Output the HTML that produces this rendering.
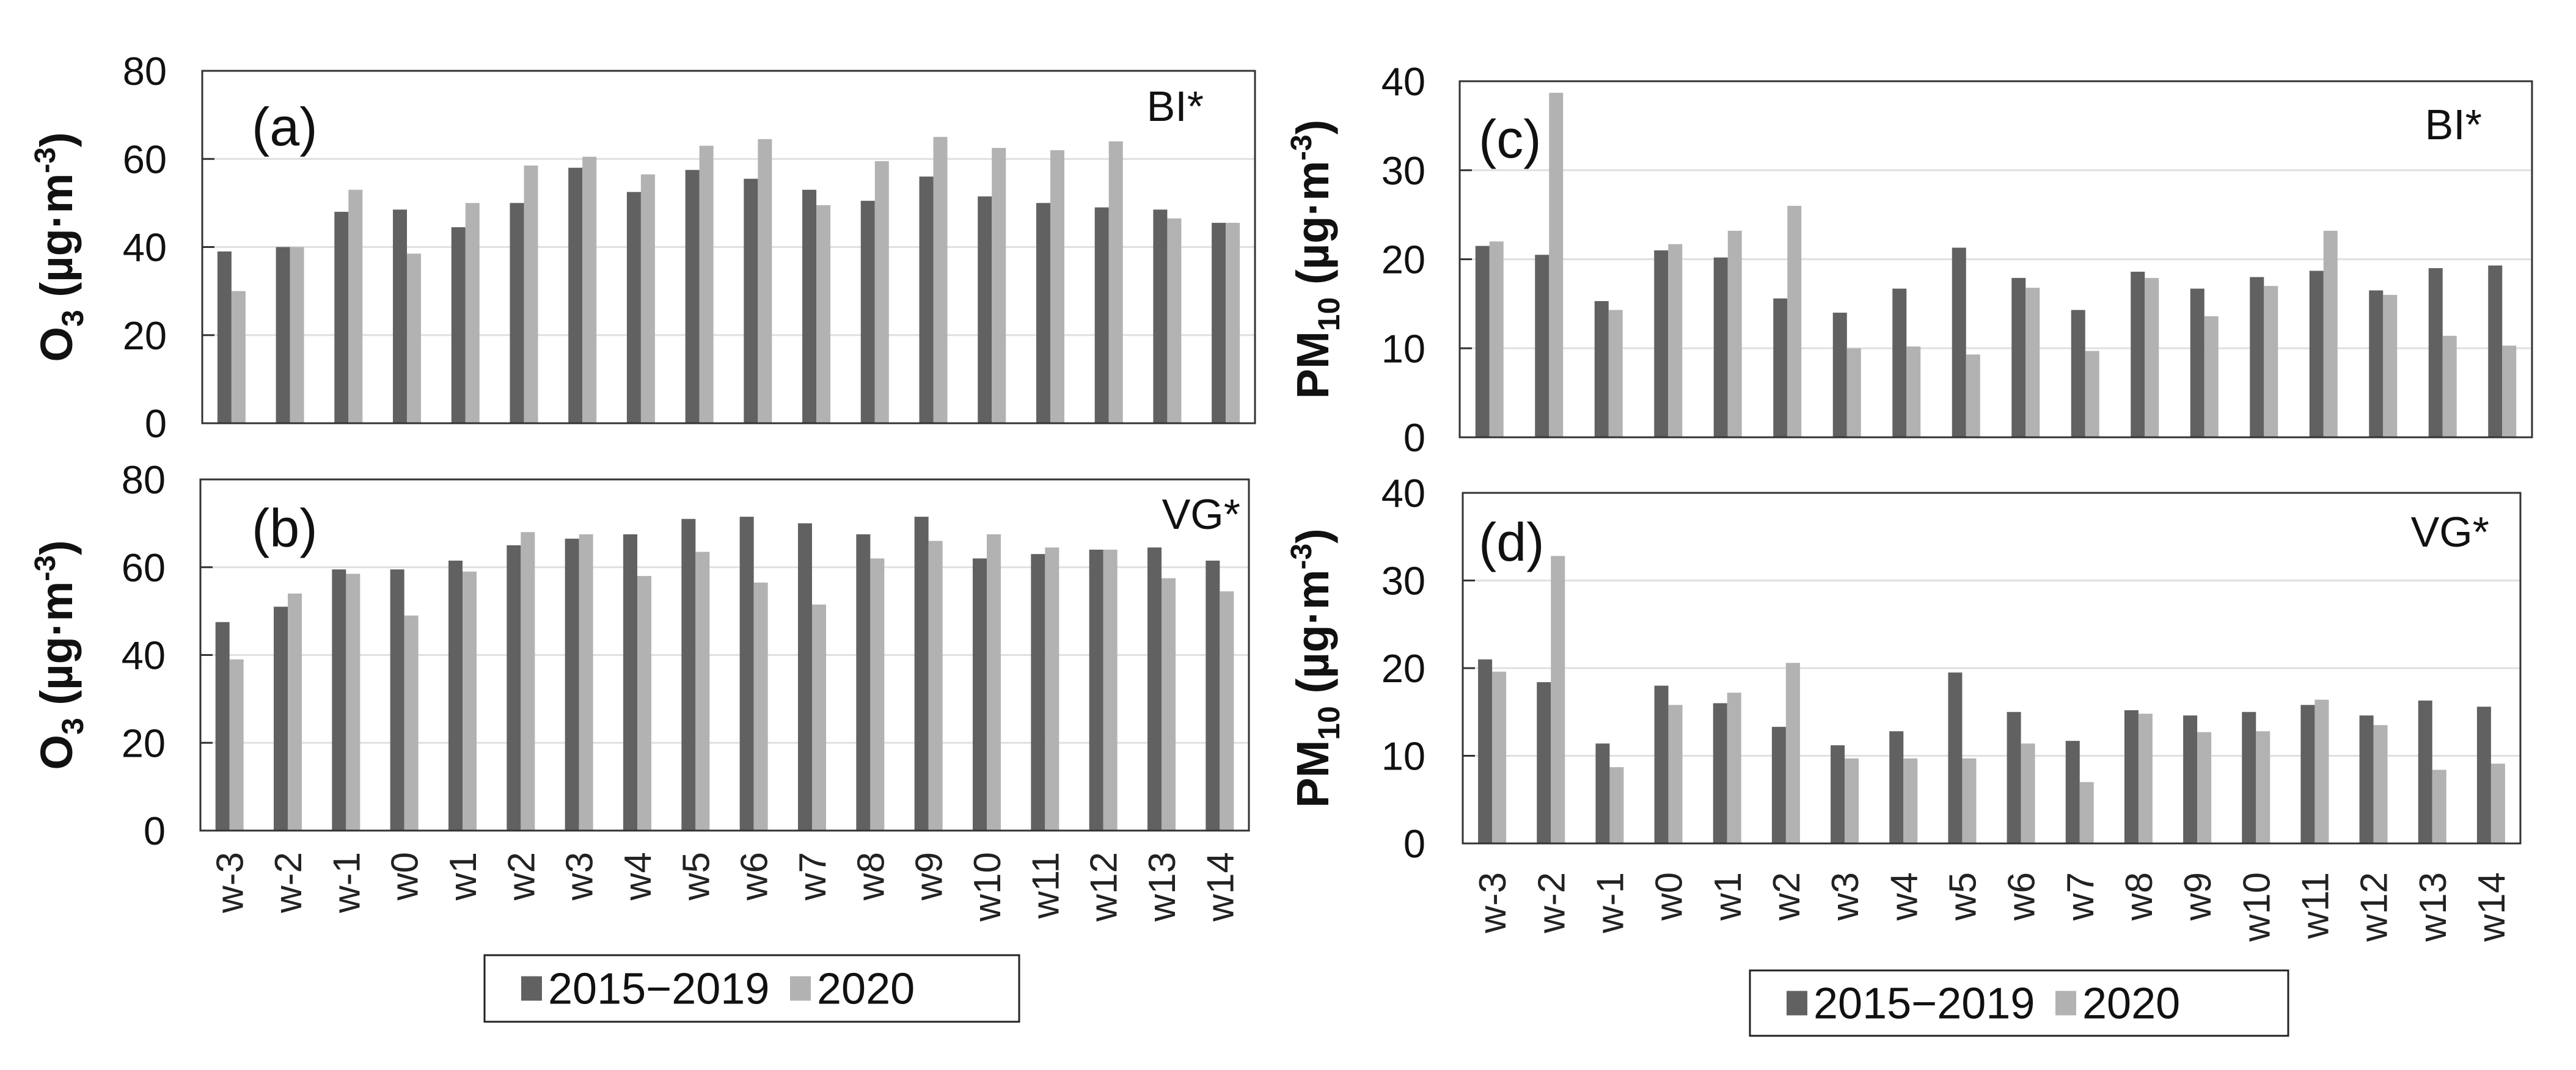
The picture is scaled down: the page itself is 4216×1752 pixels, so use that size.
<!DOCTYPE html>
<html><head><meta charset="utf-8"><style>
html,body{margin:0;padding:0;background:#fff;}
svg{display:block;font-family:"Liberation Sans",Arial,sans-serif;}
</style></head><body>
<svg id="chart" width="4216" height="1752" viewBox="0 0 4216 1752" xmlns="http://www.w3.org/2000/svg"></svg>
<script>
const categories = ["w-3","w-2","w-1","w0","w1","w2","w3","w4","w5","w6","w7","w8","w9","w10","w11","w12","w13","w14"];
const o3BiBase = [39,40,48,48.5,44.5,50,58,52.5,57.5,55.5,53,50.5,56,51.5,50,49,48.5,45.5];
const o3Bi2020 = [30,40,53,38.5,50,58.5,60.5,56.5,63,64.5,49.5,59.5,65,62.5,62,64,46.5,45.5];
const o3VgBase = [47.5,51,59.5,59.5,61.5,65,66.5,67.5,71,71.5,70,67.5,71.5,62,63,64,64.5,61.5];
const o3Vg2020 = [39,54,58.5,49,59,68,67.5,58,63.5,56.5,51.5,62,66,67.5,64.5,64,57.5,54.5];
const pmBiBase = [21.5,20.5,15.3,21,20.2,15.6,14,16.7,21.3,17.9,14.3,18.6,16.7,18,18.7,16.5,19,19.3];
const pmBi2020 = [22,38.7,14.3,21.7,23.2,26,10,10.2,9.3,16.8,9.7,17.9,13.6,17,23.2,16,11.4,10.3];
const pmVgBase = [21,18.4,11.4,18,16,13.3,11.2,12.8,19.5,15,11.7,15.2,14.6,15,15.8,14.6,16.3,15.6];
const pmVg2020 = [19.6,32.8,8.7,15.8,17.2,20.6,9.7,9.7,9.7,11.4,7,14.8,12.7,12.8,16.4,13.5,8.4,9.1];
const o3Ticks = [0,20,40,60,80];
const pmTicks = [0,10,20,30,40];
const legendLabels = ["2015\u22122019","2020"];

const svg = document.getElementById('chart');
const NS = "http://www.w3.org/2000/svg";
function mk(tag, attrs, parent){
  const e = document.createElementNS(NS, tag);
  for (const k in attrs) e.setAttribute(k, attrs[k]);
  (parent||svg).appendChild(e);
  return e;
}
const DARK="#616161", LIGHT="#b2b2b2";

function panel(cfg){
  const g = mk('g',{});
  
  
  const {x0,x1,y0,y1,max,ticks} = cfg;
  const yS = v => y1 - (v/max)*(y1-y0);
  const bw = (x1-x0)/categories.length;
  const xC = i => x0 + bw*(i+0.5);
  ticks.forEach(t=>{
    if (t>0 && t<max){
      const gl = mk('line',{x1:x0,x2:x1,y1:yS(t),y2:yS(t),stroke:"#e0e0e0","stroke-width":3},g);
      
      
    }
    const tl = mk('text',{x:cfg.tickX,y:yS(t)+23,"text-anchor":"end","font-size":65,fill:"#111"},g);
    tl.textContent = t;
    
    
    const tk = mk('line',{x1:x0,x2:x0+20,y1:yS(t),y2:yS(t),stroke:"#333","stroke-width":3},g);
    
    
  });
  const barW = 23;
  categories.forEach((c,i)=>{
    const a = mk('rect',{x:xC(i)-barW,y:yS(cfg.base[i]),width:barW,height:y1-yS(cfg.base[i]),fill:DARK},g);
    
    
    const b = mk('rect',{x:xC(i),y:yS(cfg.cur[i]),width:barW,height:y1-yS(cfg.cur[i]),fill:LIGHT},g);
    
    
    if (cfg.xlabels){
      const t = mk('text',{x:0,y:0,"text-anchor":"end","font-size":62,fill:"#222",
        transform:`translate(${xC(i)+22},${cfg.xlabY}) rotate(-90)`},g);
      t.textContent = c;
      
      
    }
  });
  const fr = mk('rect',{x:x0,y:y0,width:x1-x0,height:y1-y0,fill:"none",stroke:"#333","stroke-width":3},g);
  
  
  const pl = mk('text',{x:cfg.plX,y:cfg.plY,"font-size":88,fill:"#111"},g);
  pl.textContent = cfg.plabel;
  
  
  const st = mk('text',{x:cfg.stX,y:cfg.stY,"text-anchor":"end","font-size":70,fill:"#111"},g);
  st.textContent = cfg.site;
  
  
  const yt = mk('text',{x:0,y:0,"text-anchor":"middle","font-size":74,"font-weight":"bold",fill:"#111",
    transform:`translate(${cfg.titleX},${(y0+y1)/2}) rotate(-90)`},g);
  
  
  const s1 = mk('tspan',{},yt); s1.textContent = cfg.sp;
  const s2 = mk('tspan',{dy:18,"font-size":50},yt); s2.textContent = cfg.sub;
  const s3 = mk('tspan',{dy:-18},yt); s3.textContent = " (\u00b5g\u00b7m";
  const s4 = mk('tspan',{dy:-28,"font-size":48},yt); s4.textContent = "-3";
  const s5 = mk('tspan',{dy:28},yt); s5.textContent = ")";
}

panel({name:'panel-a',x0:331,x1:2054,y0:116,y1:693,max:80,ticks:o3Ticks,base:o3BiBase,cur:o3Bi2020,
  tickX:273,plX:412,plY:238,plabel:"(a)",stX:1970,stY:198,site:"BI*",titleX:118,sp:"O",sub:"3"});
panel({name:'panel-b',x0:328,x1:2044,y0:785,y1:1360,max:80,ticks:o3Ticks,base:o3VgBase,cur:o3Vg2020,
  tickX:271,plX:412,plY:895,plabel:"(b)",stX:2030,stY:866,site:"VG*",titleX:118,sp:"O",sub:"3",
  xlabels:true,xlabY:1395});
panel({name:'panel-c',x0:2389,x1:4144,y0:133,y1:716,max:40,ticks:pmTicks,base:pmBiBase,cur:pmBi2020,
  tickX:2333,plX:2420,plY:258,plabel:"(c)",stX:4062,stY:228,site:"BI*",titleX:2174,sp:"PM",sub:"10"});
panel({name:'panel-d',x0:2394,x1:4125,y0:807,y1:1381,max:40,ticks:pmTicks,base:pmVgBase,cur:pmVg2020,
  tickX:2333,plX:2420,plY:918,plabel:"(d)",stX:4074,stY:895,site:"VG*",titleX:2174,sp:"PM",sub:"10",
  xlabels:true,xlabY:1428});

function legend(name,x,y,w,h){
  const g = mk('g',{});
  
  
  const r = mk('rect',{x:x,y:y,width:w,height:h,fill:"#fff",stroke:"#222","stroke-width":3},g);
  
  
  const cols=[DARK,LIGHT], offs=[60,500];
  legendLabels.forEach((lab,i)=>{
    const sw = mk('rect',{x:x+offs[i],y:y+h/2-20,width:34,height:40,fill:cols[i]},g);
    
    
    const t = mk('text',{x:x+offs[i]+44,y:y+h/2+25,"font-size":72,fill:"#111"},g);
    t.textContent = lab;
    
    
  });
}
legend('legend-left',793,1564,875,109);
legend('legend-right',2864,1589,881,107);
</script>
</body></html>
